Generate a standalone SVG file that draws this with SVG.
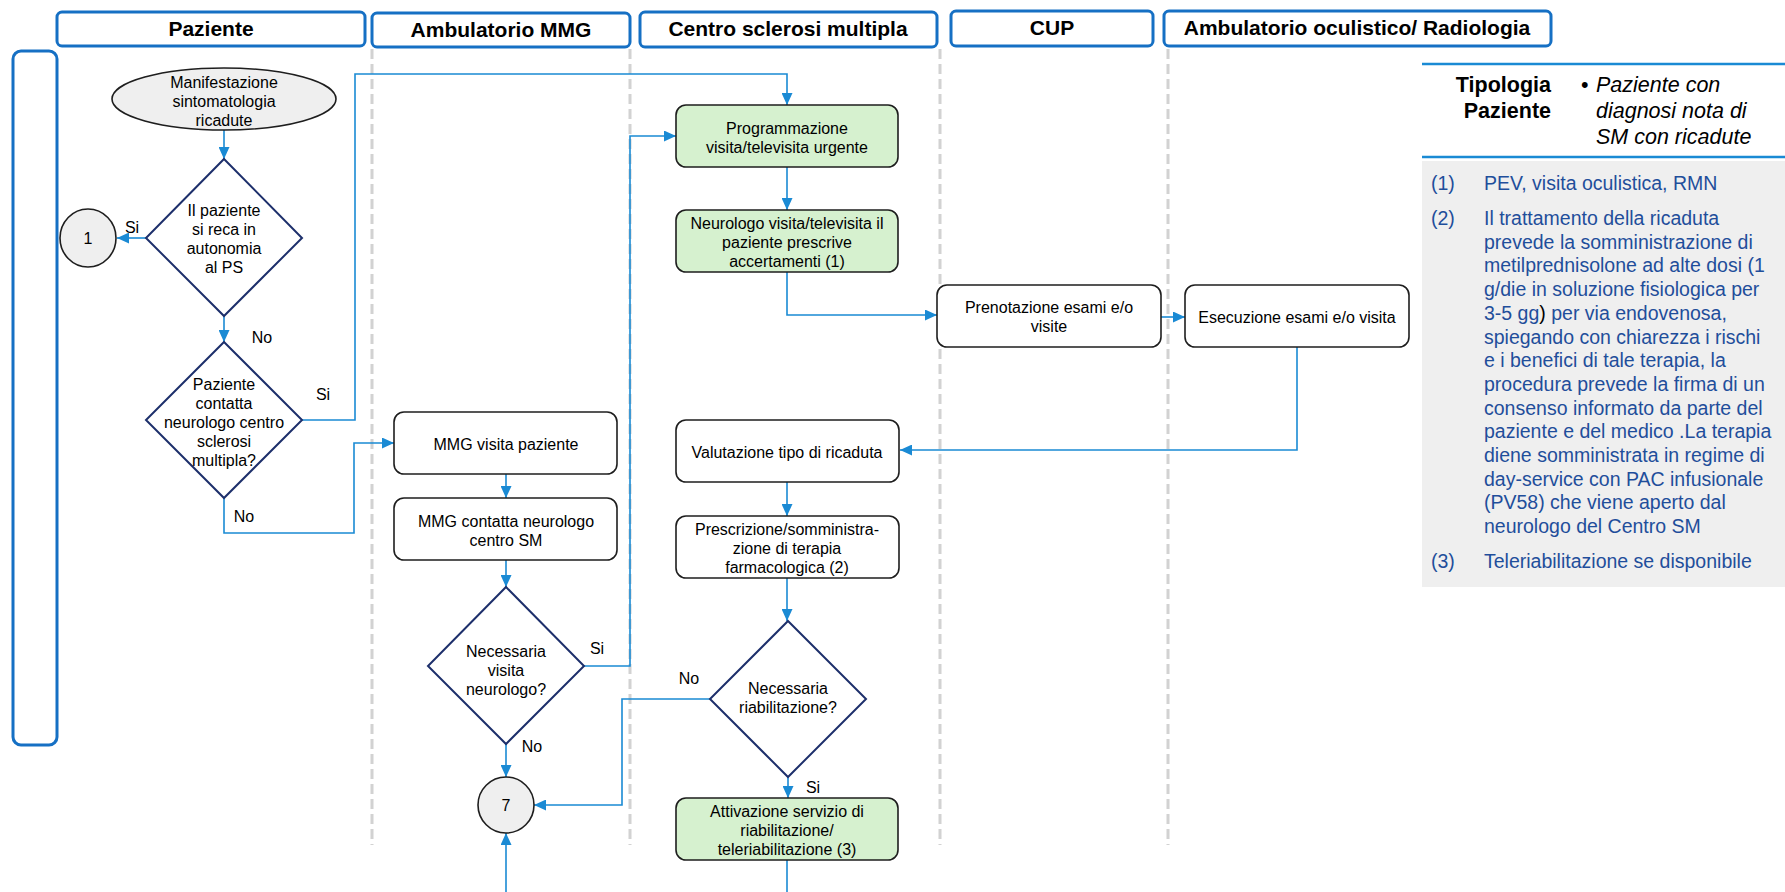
<svg xmlns="http://www.w3.org/2000/svg" width="1785" height="892" viewBox="0 0 1785 892">
  <defs>
    <marker id="arr" viewBox="0 0 12 11" refX="12" refY="5.5" markerWidth="12" markerHeight="11" markerUnits="userSpaceOnUse" orient="auto">
      <path d="M0,0 L12,5.5 L0,11 Z" fill="#1a8ad4"/>
    </marker>
    <style>
      text { font-family: "Liberation Sans", Arial, sans-serif; }
      .hdr { fill: #fff; stroke: #1670c4; stroke-width: 3; }
      .hdrt { font-size: 21px; font-weight: bold; fill: #000; text-anchor: middle; }
      .sep { stroke: #d2d2d2; stroke-width: 3; stroke-dasharray: 10 5; fill: none; }
      .box { fill: #fff; stroke: #1e1e1e; stroke-width: 1.6; }
      .green { fill: #d6f1cf; stroke: #1e1e1e; stroke-width: 1.6; }
      .gray { fill: #efefef; stroke: #1e1e1e; stroke-width: 1.6; }
      .dia { fill: #fff; stroke: #1d2f6b; stroke-width: 2; }
      .t { font-size: 16px; fill: #000; text-anchor: middle; }
      .lbl { font-size: 16px; fill: #000; text-anchor: middle; }
      .con { fill: none; stroke: #1a8ad4; stroke-width: 1.6; }
      .note { font-size: 19.5px; fill: #1f4e9b; }
    </style>
  </defs>

  <!-- lane headers -->
  <g id="lanes">
    <rect class="hdr" x="13" y="51" width="44" height="694" rx="8"/>
    <rect class="hdr" x="57" y="12" width="308" height="34" rx="5"/>
    <text class="hdrt" x="211" y="36">Paziente</text>
    <rect class="hdr" x="372" y="13" width="258" height="34" rx="5"/>
    <text class="hdrt" x="501" y="37">Ambulatorio MMG</text>
    <rect class="hdr" x="640" y="12" width="297" height="35" rx="5"/>
    <text class="hdrt" x="788" y="36">Centro sclerosi multipla</text>
    <rect class="hdr" x="951" y="11" width="202" height="35" rx="5"/>
    <text class="hdrt" x="1052" y="35">CUP</text>
    <rect class="hdr" x="1164" y="11" width="387" height="35" rx="5"/>
    <text class="hdrt" x="1357" y="35">Ambulatorio oculistico/ Radiologia</text>
    <line class="sep" x1="372" y1="49" x2="372" y2="845"/>
    <line class="sep" x1="630" y1="49" x2="630" y2="845"/>
    <line class="sep" x1="940" y1="49" x2="940" y2="845"/>
    <line class="sep" x1="1168" y1="49" x2="1168" y2="845"/>
  </g>

  <!-- connectors -->
  <g id="connectors">
    <path class="con" d="M224,130 L224,159" marker-end="url(#arr)"/>
    <path class="con" d="M146,238 L117,238" marker-end="url(#arr)" stroke-width="2.5"/>
    <path class="con" d="M224,316 L224,342" marker-end="url(#arr)"/>
    <path class="con" d="M302,420 L355,420 L355,74 L787,74 L787,105" marker-end="url(#arr)"/>
    <path class="con" d="M224,498 L224,533 L354,533 L354,443 L394,443" marker-end="url(#arr)"/>
    <path class="con" d="M506,474 L506,498" marker-end="url(#arr)"/>
    <path class="con" d="M506,560 L506,587" marker-end="url(#arr)"/>
    <path class="con" d="M584,666 L630,666 L630,136 L676,136" marker-end="url(#arr)"/>
    <path class="con" d="M506,744 L506,777" marker-end="url(#arr)"/>
    <path class="con" d="M787,167 L787,210" marker-end="url(#arr)"/>
    <path class="con" d="M787,272 L787,315 L937,315" marker-end="url(#arr)"/>
    <path class="con" d="M1161,317 L1185,317" marker-end="url(#arr)"/>
    <path class="con" d="M1297,347 L1297,450 L900,450" marker-end="url(#arr)"/>
    <path class="con" d="M787,482 L787,516" marker-end="url(#arr)"/>
    <path class="con" d="M787,578 L787,621" marker-end="url(#arr)"/>
    <path class="con" d="M710,699 L622,699 L622,805 L534,805" marker-end="url(#arr)"/>
    <path class="con" d="M788,777 L788,798" marker-end="url(#arr)"/>
    <path class="con" d="M787,860 L787,892"/>
    <path class="con" d="M506,892 L506,833" marker-end="url(#arr)"/>
    <text class="lbl" x="132" y="232.5">Si</text>
    <text class="lbl" x="262" y="342.5">No</text>
    <text class="lbl" x="323" y="399.5">Si</text>
    <text class="lbl" x="244" y="521.5">No</text>
    <text class="lbl" x="597" y="653.5">Si</text>
    <text class="lbl" x="532" y="751.5">No</text>
    <text class="lbl" x="689" y="683.5">No</text>
    <text class="lbl" x="813" y="792.5">Si</text>
  </g>

  <!-- Paziente lane -->
  <g id="start">
    <ellipse class="gray" cx="224" cy="99" rx="112" ry="31"/>
    <text class="t" x="224" y="87.5">Manifestazione</text>
    <text class="t" x="224" y="106.5">sintomatologia</text>
    <text class="t" x="224" y="125.5">ricadute</text>
  </g>
  <g id="dec-ps">
    <polygon class="dia" points="224,159 302,238 224,316 146,238"/>
    <text class="t" x="224" y="215.5">Il paziente</text>
    <text class="t" x="224" y="234.5">si reca in</text>
    <text class="t" x="224" y="253.5">autonomia</text>
    <text class="t" x="224" y="272.5">al PS</text>
  </g>
  <g id="conn-1">
    <ellipse class="gray" cx="88" cy="238" rx="28" ry="29"/>
    <text class="t" x="88" y="244">1</text>
  </g>
  <g id="dec-contatta">
    <polygon class="dia" points="224,342 302,420 224,498 146,420"/>
    <text class="t" x="224" y="389.5">Paziente</text>
    <text class="t" x="224" y="408.5">contatta</text>
    <text class="t" x="224" y="427.5">neurologo centro</text>
    <text class="t" x="224" y="446.5">sclerosi</text>
    <text class="t" x="224" y="465.5">multipla?</text>
  </g>

  <!-- Ambulatorio MMG lane -->
  <g id="mmg-visita">
    <rect class="box" x="394" y="412" width="223" height="62" rx="10"/>
    <text class="t" x="506" y="449.5">MMG visita paziente</text>
  </g>
  <g id="mmg-contatta">
    <rect class="box" x="394" y="498" width="223" height="62" rx="10"/>
    <text class="t" x="506" y="526.5">MMG contatta neurologo</text>
    <text class="t" x="506" y="545.5">centro SM</text>
  </g>
  <g id="dec-visita">
    <polygon class="dia" points="506,587 584,666 506,744 428,666"/>
    <text class="t" x="506" y="656.5">Necessaria</text>
    <text class="t" x="506" y="675.5">visita</text>
    <text class="t" x="506" y="694.5">neurologo?</text>
  </g>
  <g id="conn-7">
    <ellipse class="gray" cx="506" cy="805" rx="28" ry="28"/>
    <text class="t" x="506" y="811">7</text>
  </g>

  <!-- Centro sclerosi multipla lane -->
  <g id="programmazione">
    <rect class="green" x="676" y="105" width="222" height="62" rx="10"/>
    <text class="t" x="787" y="133.5">Programmazione</text>
    <text class="t" x="787" y="152.5">visita/televisita urgente</text>
  </g>
  <g id="neurologo">
    <rect class="green" x="676" y="210" width="222" height="62" rx="10"/>
    <text class="t" x="787" y="228.5">Neurologo visita/televisita il</text>
    <text class="t" x="787" y="247.5">paziente prescrive</text>
    <text class="t" x="787" y="266.5">accertamenti (1)</text>
  </g>
  <g id="valutazione">
    <rect class="box" x="676" y="420" width="223" height="62" rx="10"/>
    <text class="t" x="787" y="457.5">Valutazione tipo di ricaduta</text>
  </g>
  <g id="prescrizione">
    <rect class="box" x="676" y="516" width="223" height="62" rx="10"/>
    <text class="t" x="787" y="534.5">Prescrizione/somministra-</text>
    <text class="t" x="787" y="553.5">zione di terapia</text>
    <text class="t" x="787" y="572.5">farmacologica (2)</text>
  </g>
  <g id="dec-riab">
    <polygon class="dia" points="788,621 866,699 788,777 710,699"/>
    <text class="t" x="788" y="693.5">Necessaria</text>
    <text class="t" x="788" y="712.5">riabilitazione?</text>
  </g>
  <g id="attivazione">
    <rect class="green" x="676" y="798" width="222" height="62" rx="10"/>
    <text class="t" x="787" y="816.5">Attivazione servizio di</text>
    <text class="t" x="787" y="835.5">riabilitazione/</text>
    <text class="t" x="787" y="854.5">teleriabilitazione (3)</text>
  </g>

  <!-- CUP lane -->
  <g id="prenotazione">
    <rect class="box" x="937" y="285" width="224" height="62" rx="10"/>
    <text class="t" x="1049" y="312.5">Prenotazione esami e/o</text>
    <text class="t" x="1049" y="331.5">visite</text>
  </g>

  <!-- Ambulatorio oculistico / Radiologia lane -->
  <g id="esecuzione">
    <rect class="box" x="1185" y="285" width="224" height="62" rx="10"/>
    <text class="t" x="1297" y="322.5">Esecuzione esami e/o visita</text>
  </g>

  <!-- side panel -->
  <g id="legend">
    <line x1="1422" y1="64" x2="1785" y2="64" stroke="#1a8ad4" stroke-width="2.5"/>
    <text x="1551" y="92" font-size="21.5" font-weight="bold" text-anchor="end">Tipologia</text>
    <text x="1551" y="118" font-size="21.5" font-weight="bold" text-anchor="end">Paziente</text>
    <text x="1581" y="92" font-size="21.5">•</text>
    <text x="1596" y="92" font-size="21.5" font-style="italic">Paziente con</text>
    <text x="1596" y="118" font-size="21.5" font-style="italic">diagnosi nota di</text>
    <text x="1596" y="144" font-size="21.5" font-style="italic">SM con ricadute</text>
    <line x1="1422" y1="157" x2="1785" y2="157" stroke="#1a8ad4" stroke-width="2.5"/>
    <rect x="1422" y="161" width="363" height="426" fill="#efefef"/>
    <text class="note" x="1431" y="190">(1)</text>
    <text class="note" x="1484" y="190">PEV, visita oculistica, RMN</text>
    <text class="note" x="1431" y="225">(2)</text>
    <text class="note" x="1484" y="225">Il trattamento della ricaduta</text>
    <text class="note" x="1484" y="248.7">prevede la somministrazione di</text>
    <text class="note" x="1484" y="272.4">metilprednisolone ad alte dosi (1</text>
    <text class="note" x="1484" y="296.1">g/die in soluzione fisiologica per</text>
    <text class="note" x="1484" y="319.8">3-5 gg<tspan fill="#000">)</tspan> per via endovenosa,</text>
    <text class="note" x="1484" y="343.5">spiegando con chiarezza i rischi</text>
    <text class="note" x="1484" y="367.2">e i benefici di tale terapia, la</text>
    <text class="note" x="1484" y="390.9">procedura prevede la firma di un</text>
    <text class="note" x="1484" y="414.6">consenso informato da parte del</text>
    <text class="note" x="1484" y="438.3">paziente e del medico .La terapia</text>
    <text class="note" x="1484" y="462">diene somministrata in regime di</text>
    <text class="note" x="1484" y="485.7">day-service con PAC infusionale</text>
    <text class="note" x="1484" y="509.4">(PV58) che viene aperto dal</text>
    <text class="note" x="1484" y="533">neurologo del Centro SM</text>
    <text class="note" x="1431" y="568">(3)</text>
    <text class="note" x="1484" y="568">Teleriabilitazione se disponibile</text>
  </g>
</svg>
